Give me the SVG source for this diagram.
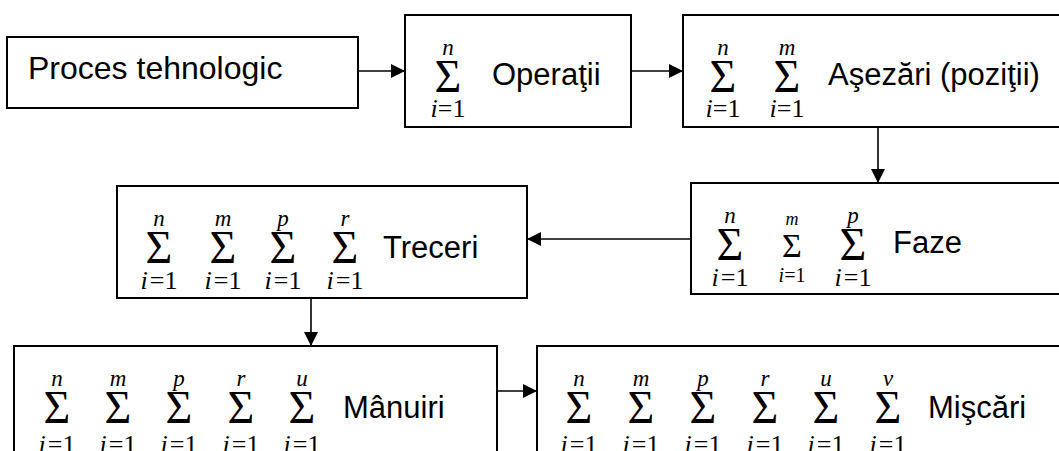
<svg xmlns="http://www.w3.org/2000/svg" width="1059" height="451" viewBox="0 0 1059 451">
<style>
.box{fill:#fff;stroke:#000;stroke-width:2}
.lbl{font-family:"Liberation Sans",Arial,sans-serif;font-size:31px;fill:#000}
.up{font-family:"Liberation Serif","Times New Roman",serif;font-style:italic;font-size:23px;text-anchor:middle}
.sig{font-family:"Liberation Serif","Times New Roman",serif;font-size:46px;text-anchor:middle}
.low{font-family:"Liberation Serif","Times New Roman",serif;font-size:26px;text-anchor:middle}
.it{font-style:italic}
.con{stroke:#000;stroke-width:1.6;fill:none}
</style>
<defs>
<marker id="ah" markerUnits="userSpaceOnUse" markerWidth="15" markerHeight="14" refX="14" refY="7" orient="auto">
<path d="M0,0 L14,7 L0,14 z" fill="#000"/>
</marker>
</defs>
<rect width="1059" height="451" fill="#fff"/>
<g id="connectors">
<line class="con" x1="358" y1="71" x2="405" y2="71" marker-end="url(#ah)"/>
<line class="con" x1="631" y1="71" x2="683" y2="71" marker-end="url(#ah)"/>
<line class="con" x1="878" y1="127" x2="878" y2="183" marker-end="url(#ah)"/>
<line class="con" x1="691" y1="239" x2="527" y2="239" marker-end="url(#ah)"/>
<line class="con" x1="311" y1="298" x2="311" y2="346" marker-end="url(#ah)"/>
<line class="con" x1="497" y1="391" x2="537" y2="391" marker-end="url(#ah)"/>
</g>
<g id="proces">
<rect class="box" x="7" y="37" width="351" height="71"/>
<text class="lbl" x="28" y="79" style="font-size:32px">Proces tehnologic</text>
</g>
<g id="operatii">
<rect class="box" x="405" y="15" width="226" height="112"/>
<text class="up" x="448" y="55">n</text>
<text class="sig" x="448" y="92">Σ</text>
<text class="low" x="448" y="117"><tspan class="it">i</tspan>=1</text>
<text class="lbl" x="492" y="85">Operaţii</text>
</g>
<g id="asezari">
<rect class="box" x="683" y="15" width="390" height="112"/>
<text class="up" x="723" y="55">n</text>
<text class="sig" x="723" y="92">Σ</text>
<text class="low" x="723" y="117"><tspan class="it">i</tspan>=1</text>
<text class="up" x="787" y="55">m</text>
<text class="sig" x="787" y="92">Σ</text>
<text class="low" x="787" y="117"><tspan class="it">i</tspan>=1</text>
<text class="lbl" x="828" y="85">Aşezări (poziţii)</text>
</g>
<g id="faze">
<rect class="box" x="691" y="183" width="380" height="111"/>
<text class="up" x="730" y="223">n</text>
<text class="sig" x="730" y="260">Σ</text>
<text class="low" x="730" y="286"><tspan class="it">i</tspan><tspan dx="2">=1</tspan></text>
<text class="up" x="792" y="225" style="font-size:18px">m</text>
<text class="sig" x="792" y="257" style="font-size:34px">Σ</text>
<text class="low" x="792" y="282" style="font-size:20px"><tspan class="it">i</tspan>=1</text>
<text class="up" x="853" y="223">p</text>
<text class="sig" x="853" y="260">Σ</text>
<text class="low" x="853" y="286"><tspan class="it">i</tspan><tspan dx="2">=1</tspan></text>
<text class="lbl" x="893" y="253">Faze</text>
</g>
<g id="treceri">
<rect class="box" x="117" y="186" width="410" height="112"/>
<text class="up" x="159" y="226">n</text>
<text class="sig" x="159" y="263">Σ</text>
<text class="low" x="159" y="289"><tspan class="it">i</tspan><tspan dx="2">=1</tspan></text>
<text class="up" x="223" y="226">m</text>
<text class="sig" x="223" y="263">Σ</text>
<text class="low" x="223" y="289"><tspan class="it">i</tspan><tspan dx="2">=1</tspan></text>
<text class="up" x="283" y="226">p</text>
<text class="sig" x="283" y="263">Σ</text>
<text class="low" x="283" y="289"><tspan class="it">i</tspan><tspan dx="2">=1</tspan></text>
<text class="up" x="345" y="226">r</text>
<text class="sig" x="345" y="263">Σ</text>
<text class="low" x="345" y="289"><tspan class="it">i</tspan><tspan dx="2">=1</tspan></text>
<text class="lbl" x="383" y="258">Treceri</text>
</g>
<g id="manuiri">
<rect class="box" x="14" y="346" width="483" height="120"/>
<text class="up" x="57" y="386">n</text>
<text class="sig" x="57" y="423">Σ</text>
<text class="low" x="57" y="453"><tspan class="it">i</tspan><tspan dx="2">=1</tspan></text>
<text class="up" x="118" y="386">m</text>
<text class="sig" x="118" y="423">Σ</text>
<text class="low" x="118" y="453"><tspan class="it">i</tspan><tspan dx="2">=1</tspan></text>
<text class="up" x="179" y="386">p</text>
<text class="sig" x="179" y="423">Σ</text>
<text class="low" x="179" y="453"><tspan class="it">i</tspan><tspan dx="2">=1</tspan></text>
<text class="up" x="241" y="386">r</text>
<text class="sig" x="241" y="423">Σ</text>
<text class="low" x="241" y="453"><tspan class="it">i</tspan><tspan dx="2">=1</tspan></text>
<text class="up" x="302" y="386">u</text>
<text class="sig" x="302" y="423">Σ</text>
<text class="low" x="302" y="453"><tspan class="it">i</tspan><tspan dx="2">=1</tspan></text>
<text class="lbl" x="343" y="418">Mânuiri</text>
</g>
<g id="miscari">
<rect class="box" x="537" y="346" width="540" height="120"/>
<text class="up" x="579" y="386">n</text>
<text class="sig" x="579" y="423">Σ</text>
<text class="low" x="579" y="453"><tspan class="it">i</tspan><tspan dx="2">=1</tspan></text>
<text class="up" x="641" y="386">m</text>
<text class="sig" x="641" y="423">Σ</text>
<text class="low" x="641" y="453"><tspan class="it">i</tspan><tspan dx="2">=1</tspan></text>
<text class="up" x="703" y="386">p</text>
<text class="sig" x="703" y="423">Σ</text>
<text class="low" x="703" y="453"><tspan class="it">i</tspan><tspan dx="2">=1</tspan></text>
<text class="up" x="765" y="386">r</text>
<text class="sig" x="765" y="423">Σ</text>
<text class="low" x="765" y="453"><tspan class="it">i</tspan><tspan dx="2">=1</tspan></text>
<text class="up" x="826" y="386">u</text>
<text class="sig" x="826" y="423">Σ</text>
<text class="low" x="826" y="453"><tspan class="it">i</tspan><tspan dx="2">=1</tspan></text>
<text class="up" x="888" y="386">v</text>
<text class="sig" x="888" y="423">Σ</text>
<text class="low" x="888" y="453"><tspan class="it">i</tspan><tspan dx="2">=1</tspan></text>
<text class="lbl" x="928" y="418">Mişcări</text>
</g>
</svg>
